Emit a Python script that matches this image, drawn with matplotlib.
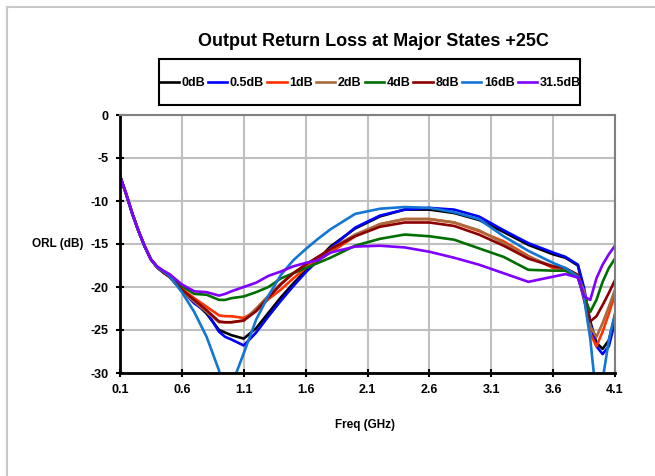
import matplotlib
matplotlib.use("Agg")
import matplotlib.pyplot as plt
from matplotlib.lines import Line2D
from matplotlib.patches import Rectangle

plt.rcParams['font.family'] = ['Liberation Sans Narrow', 'Liberation Sans', 'DejaVu Sans']
plt.rcParams['font.weight'] = 'bold'

freq = [0.1, 0.15, 0.2, 0.25, 0.3, 0.35, 0.4, 0.45, 0.5, 0.6, 0.7, 0.8, 0.9, 0.95, 1.0, 1.1,
        1.2, 1.3, 1.4, 1.5, 1.6, 1.7, 1.8, 2.0, 2.2, 2.4, 2.6, 2.8, 3.0, 3.2, 3.4, 3.6, 3.7,
        3.8, 3.85, 3.9, 3.95, 4.0, 4.05, 4.1]

s_0dB = [-7.1, -9.2, -11.5, -13.5, -15.3, -16.8, -17.7, -18.3, -18.8, -20.4, -21.7, -23.1,
         -25.0, -25.3, -25.6, -26.0, -24.8, -23.0, -21.2, -19.6, -18.1, -16.8, -15.3, -13.2,
         -11.8, -11.0, -11.0, -11.4, -12.2, -13.6, -15.1, -16.2, -16.6, -17.5, -20.5, -24.0,
         -26.5, -27.2, -26.2, -23.3]
s_05dB = [-7.1, -9.2, -11.5, -13.5, -15.3, -16.8, -17.7, -18.3, -18.8, -20.4, -21.9, -22.9,
          -25.2, -25.8, -26.1, -26.8, -25.3, -23.4, -21.6, -19.9, -18.3, -16.9, -15.5, -13.1,
          -11.7, -11.0, -10.8, -11.0, -11.8, -13.4, -14.9, -16.0, -16.5, -17.4, -20.1, -24.2,
          -26.9, -27.8, -26.9, -24.0]
s_1dB = [-7.1, -9.2, -11.5, -13.5, -15.3, -16.8, -17.7, -18.3, -18.8, -20.2, -21.3, -22.3,
         -23.3, -23.4, -23.4, -23.6, -22.8, -21.4, -20.3, -19.0, -17.8, -16.9, -16.0, -14.1,
         -12.7, -12.1, -12.1, -12.5, -13.5, -14.7, -16.4, -17.8, -17.9, -18.6, -21.1, -25.4,
         -26.9, -25.2, -23.1, -20.9]
s_2dB = [-7.1, -9.2, -11.5, -13.5, -15.3, -16.8, -17.7, -18.3, -18.8, -20.5, -21.7, -22.9,
         -24.1, -24.1, -24.1, -23.9, -22.5, -21.0, -19.6, -18.4, -17.4, -16.5, -15.6, -13.9,
         -12.7, -12.1, -12.1, -12.5, -13.4, -14.9, -16.5, -17.6, -17.9, -18.7, -20.5, -24.6,
         -25.8, -24.2, -22.3, -20.3]
s_4dB = [-7.1, -9.2, -11.5, -13.5, -15.3, -16.8, -17.7, -18.3, -18.8, -19.9, -20.8, -20.9,
         -21.5, -21.5, -21.3, -21.1, -20.6, -20.0, -19.0, -18.4, -17.8, -17.2, -16.6, -15.2,
         -14.4, -13.9, -14.1, -14.5, -15.5, -16.5, -18.0, -18.1, -18.1, -18.9, -21.1, -22.9,
         -21.5, -19.4, -17.8, -16.7]
s_8dB = [-7.1, -9.2, -11.5, -13.5, -15.3, -16.8, -17.7, -18.3, -18.8, -20.3, -21.5, -22.7,
         -24.0, -24.1, -24.1, -23.9, -22.8, -21.2, -19.7, -18.4, -17.4, -16.5, -15.6, -14.1,
         -13.0, -12.5, -12.5, -12.9, -13.9, -15.2, -16.7, -17.6, -17.8, -18.6, -21.5, -24.0,
         -23.4, -22.1, -20.7, -19.2]
s_16dB = [-7.1, -9.2, -11.5, -13.5, -15.3, -16.8, -17.7, -18.2, -18.7, -20.6, -22.9, -25.8,
          -29.7, -34.0, -31.5, -27.7, -23.8, -21.0, -18.6, -16.9, -15.6, -14.4, -13.3, -11.5,
          -10.9, -10.7, -10.8, -11.3, -12.1, -14.1, -15.8, -17.2, -17.8, -18.8, -21.3, -26.0,
          -33.0, -30.8, -26.2, -23.1]
s_315dB = [-7.1, -9.2, -11.5, -13.5, -15.3, -16.8, -17.6, -18.1, -18.5, -19.7, -20.5, -20.6,
           -21.0, -20.8, -20.5, -20.0, -19.5, -18.7, -18.2, -17.6, -17.2, -16.9, -16.0, -15.3,
           -15.2, -15.4, -15.9, -16.6, -17.4, -18.4, -19.4, -18.8, -18.5, -18.9, -21.1, -21.5,
           -19.0, -17.4, -16.2, -15.2]

series = [s_0dB, s_05dB, s_1dB, s_2dB, s_4dB, s_8dB, s_16dB, s_315dB]
labels = ['0dB', '0.5dB', '1dB', '2dB', '4dB', '8dB', '16dB', '31.5dB']
colors = ['#000000', '#0000FF', '#FF3300', '#A86B3C', '#006E00', '#8B0000', '#1276D2', '#8000FF']

xticks = [0.1, 0.6, 1.1, 1.6, 2.1, 2.6, 3.1, 3.6, 4.1]
yticks = [0, -5, -10, -15, -20, -25, -30]

W, H = 655, 476
fig = plt.figure(figsize=(W / 100, H / 100), dpi=100)
fig.patch.set_facecolor('white')

ax = fig.add_axes([120 / W, 1 - 373 / H, (615 - 120) / W, (373 - 115) / H])
for s, lab, c in zip(series, labels, colors):
    ax.plot(freq, s, color=c, lw=1.9, label=lab, solid_joinstyle='round')

ax.set_xlim(0.1, 4.1)
ax.set_ylim(-30, 0)
ax.set_xticks(xticks)
ax.set_xticklabels([f"{t:.1f}" for t in xticks])
ax.set_yticks(yticks)
ax.set_yticklabels([str(t) for t in yticks])
ax.grid(True, color='#C0C0C0', lw=1.5)
ax.set_axisbelow(True)
ax.tick_params(axis='both', direction='inout', length=6, width=1.5, color='black',
               labelsize=9, pad=5)
for lab in ax.get_xticklabels() + ax.get_yticklabels():
    lab.set_fontweight('bold')
ax.spines['left'].set_color('black')
ax.spines['left'].set_linewidth(2)
ax.spines['bottom'].set_color('black')
ax.spines['bottom'].set_linewidth(2)
ax.spines['top'].set_color('#808080')
ax.spines['top'].set_linewidth(1.5)
ax.spines['right'].set_color('#808080')
ax.spines['right'].set_linewidth(1.5)

fig.text(373 / W, 1 - 41 / H, 'Output Return Loss at Major States +25C', ha='center', va='center',
         fontsize=13, fontweight='bold')
fig.text(58 / W, 1 - 244 / H, 'ORL (dB)', ha='center', va='center', fontsize=8.5, fontweight='bold')
fig.text(365 / W, 1 - 425 / H, 'Freq (GHz)', ha='center', va='center', fontsize=8.5, fontweight='bold')

# legend box
fig.patches.append(Rectangle((159 / W, 1 - 105 / H), (580 - 159) / W, (105 - 59) / H,
                             transform=fig.transFigure, fill=False, edgecolor='black', lw=1.5))
leg = fig.legend(loc='center', bbox_to_anchor=(370 / W, 1 - 83 / H), ncol=8, frameon=False,
                 handlelength=1.55, handletextpad=0.2, columnspacing=0.25,
                 prop={'size': 9, 'weight': 'bold'}, borderaxespad=0, borderpad=0)

# outer chart border
fig.add_artist(Line2D([7 / W, 7 / W], [0, 1 - 7 / H], transform=fig.transFigure, color='#C8C8C8', lw=1.5))
fig.add_artist(Line2D([7 / W, 1], [1 - 7 / H, 1 - 7 / H], transform=fig.transFigure, color='#C8C8C8', lw=1.5))

fig.savefig('out.png', dpi=100)
